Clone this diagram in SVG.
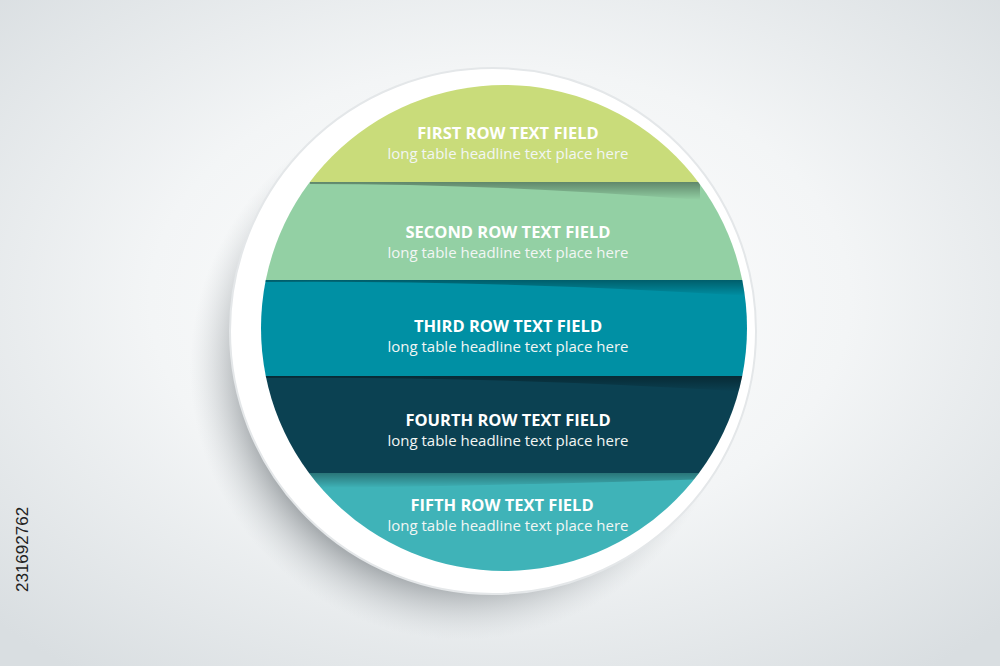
<svg xmlns="http://www.w3.org/2000/svg" width="1000" height="666" viewBox="0 0 1000 666">
<defs>
<radialGradient id="bg" cx="0.5" cy="0.45" r="0.7"><stop offset="0" stop-color="#ffffff"/><stop offset="0.5" stop-color="#f3f5f6"/><stop offset="1" stop-color="#d9dee1"/></radialGradient>
<radialGradient id="sh" cx="0.5" cy="0.5" r="0.5"><stop offset="0.8" stop-color="#8a9094" stop-opacity="0.7"/><stop offset="1" stop-color="#c8cdd0" stop-opacity="0"/></radialGradient>
<clipPath id="c"><circle cx="504" cy="328" r="243"/></clipPath>
<linearGradient id="bs" x1="0" y1="0" x2="0" y2="1"><stop offset="0" stop-color="#000" stop-opacity="0.35"/><stop offset="1" stop-color="#000" stop-opacity="0"/></linearGradient>
<style>.t{font-family:"Open Sans","Liberation Sans",sans-serif;fill:#fff;text-anchor:middle}.h{font-size:16.5px;font-weight:bold}.s{font-size:15px;fill:#f2f6f4}</style>
</defs>
<rect width="1000" height="666" fill="url(#bg)"/>
<circle cx="462" cy="368" r="272" fill="url(#sh)"/>
<circle cx="493" cy="331" r="263" fill="#ffffff"/>
<circle cx="493" cy="331" r="263" fill="none" stroke="#e4e7e9" stroke-width="2"/>
<g clip-path="url(#c)">
<g id="row1"><rect x="250" y="80" width="520" height="102" fill="#c9dc7a"/></g>
<g id="row2"><rect x="250" y="182" width="520" height="98" fill="#93d0a4"/><path d="M310 182 L700 182 L700 200 Q500 184 310 184Z" fill="url(#bs)"/></g>
<g id="row3"><rect x="250" y="280" width="520" height="96" fill="#0090a4"/><path d="M260 280 L750 280 L750 296 Q500 280 260 282Z" fill="url(#bs)"/></g>
<g id="row4"><rect x="250" y="376" width="520" height="97" fill="#0b4152"/><path d="M260 376 L750 376 L750 392 Q500 376 260 378Z" fill="url(#bs)"/></g>
<g id="row5"><rect x="250" y="473" width="520" height="110" fill="#3fb3b8"/><path d="M300 473 L740 473 L740 478 Q500 486 300 488Z" fill="url(#bs)"/></g>
</g>
<text class="t h" x="508" y="139">FIRST ROW TEXT FIELD</text><text class="t s" x="508" y="159">long table headline text place here</text>
<text class="t h" x="508" y="238">SECOND ROW TEXT FIELD</text><text class="t s" x="508" y="258">long table headline text place here</text>
<text class="t h" x="508" y="332">THIRD ROW TEXT FIELD</text><text class="t s" x="508" y="352">long table headline text place here</text>
<text class="t h" x="508" y="426">FOURTH ROW TEXT FIELD</text><text class="t s" x="508" y="446">long table headline text place here</text>
<text class="t h" x="502" y="511">FIFTH ROW TEXT FIELD</text><text class="t s" x="508" y="531">long table headline text place here</text>
<text x="28" y="592" transform="rotate(-90 28 592)" font-family="Liberation Sans,sans-serif" font-size="17" fill="#222">231692762</text>
</svg>
